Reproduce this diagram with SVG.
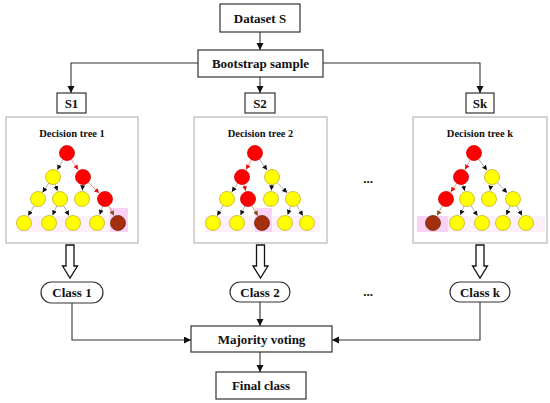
<svg xmlns="http://www.w3.org/2000/svg" width="550" height="403" viewBox="0 0 550 403">
<defs>
<marker id="ah" markerUnits="userSpaceOnUse" markerWidth="8" markerHeight="8" refX="7" refY="3.5" orient="auto"><path d="M0,0 L7,3.5 L0,7 z" fill="#111"/></marker>
<marker id="tb" markerUnits="userSpaceOnUse" markerWidth="6" markerHeight="6" refX="5" refY="2.5" orient="auto"><path d="M0,0 L5,2.5 L0,5 z" fill="#111"/></marker>
<marker id="tr" markerUnits="userSpaceOnUse" markerWidth="6" markerHeight="6" refX="5" refY="2.5" orient="auto"><path d="M0,0 L5,2.5 L0,5 z" fill="#ee1111"/></marker>
<marker id="tbr" markerUnits="userSpaceOnUse" markerWidth="6" markerHeight="6" refX="5" refY="2.5" orient="auto"><path d="M0,0 L5,2.5 L0,5 z" fill="#8a4a10"/></marker>
</defs>
<style>
text{font-family:"Liberation Serif","Times New Roman",serif;font-weight:bold;fill:#111;text-anchor:middle}
.box{fill:#fff;stroke:#333;stroke-width:1.2}
.tbox{fill:#fff;stroke:#aaa;stroke-width:1}
.t{font-size:13px}
.tt{font-size:10.5px}
.con{fill:none;stroke:#333;stroke-width:1.1}
.e{stroke:#999;stroke-width:0.8;marker-end:url(#tb)}
.er{stroke:#f77;stroke-width:0.8;marker-end:url(#tr)}
.eb{stroke:#b08060;stroke-width:0.8;marker-end:url(#tbr)}
.y{fill:#ffff00;stroke:#c8b020;stroke-width:0.8}
.r{fill:#ff0000;stroke:#d80000;stroke-width:0.8}
.b{fill:#a3300c;stroke:#7a2a08;stroke-width:0.8}
.hl{fill:#fdf0fd}
.hd{fill:#fad2f5}
.hol{fill:#fff;stroke:#111;stroke-width:1.3}
</style>
<g id="connectors">
<line class="con" x1="260" y1="32" x2="260" y2="50" marker-end="url(#ah)"/>
<polyline class="con" points="198,63 71,63 71,93" marker-end="url(#ah)"/>
<polyline class="con" points="323,63 480,63 480,93" marker-end="url(#ah)"/>
<line class="con" x1="260" y1="77" x2="260" y2="93" marker-end="url(#ah)"/>
<polyline class="con" points="72,303 72,340 191,340" marker-end="url(#ah)"/>
<line class="con" x1="260" y1="302" x2="260" y2="326" marker-end="url(#ah)"/>
<polyline class="con" points="480,302 480,340 332,340" marker-end="url(#ah)"/>
<line class="con" x1="260" y1="352" x2="260" y2="372" marker-end="url(#ah)"/>
<polygon class="hol" points="66,245 74,245 74,266 77.5,266 70,278 62.5,266 66,266"/>
<polygon class="hol" points="256.5,245 264.5,245 264.5,266 268,266 260.5,278 253,266 256.5,266"/>
<polygon class="hol" points="476,245 484,245 484,266 487.5,266 480,278 472.5,266 476,266"/>
</g>
<g id="dataset"><rect class="box" x="220" y="4" width="80" height="28"/><text class="t" x="260" y="22.5">Dataset S</text></g>
<g id="bootstrap"><rect class="box" x="198" y="50" width="125" height="27"/><text class="t" x="260.5" y="68">Bootstrap sample</text></g>
<g id="s1"><rect class="box" x="57" y="93" width="29" height="20"/><text class="t" x="71.5" y="107.5">S1</text></g>
<g id="s2"><rect class="box" x="245" y="93" width="30" height="20"/><text class="t" x="260" y="107.5">S2</text></g>
<g id="sk"><rect class="box" x="466" y="93" width="28" height="20"/><text class="t" x="480" y="107.5">Sk</text></g>

<g id="tree1">
<rect class="tbox" x="6" y="117" width="132" height="126"/>
<text class="tt" x="72" y="136.5">Decision tree 1</text>
<rect class="hl" x="17" y="216" width="111" height="16"/>
<rect class="hd" x="110" y="208" width="18" height="24"/>
<line class="e" x1="63.2" y1="159.5" x2="57.2" y2="169.8"/>
<line class="er" x1="71.3" y1="159.5" x2="78.2" y2="169.8"/>
<line class="e" x1="49" y1="182.9" x2="42.5" y2="192.4"/>
<line class="e" x1="55.2" y1="184" x2="57.4" y2="190.9"/>
<line class="e" x1="82.7" y1="184.5" x2="82.4" y2="190.4"/>
<line class="er" x1="88.3" y1="182.3" x2="99.1" y2="193.1"/>
<line class="e" x1="34.2" y1="205.5" x2="28.2" y2="215.8"/>
<line class="e" x1="56.9" y1="205.7" x2="52.5" y2="215.3"/>
<line class="e" x1="63.5" y1="205.5" x2="69" y2="215.6"/>
<line class="e" x1="102.6" y1="206.2" x2="99.7" y2="214.8"/>
<line class="eb" x1="108.5" y1="205.5" x2="114" y2="215.6"/>
<circle class="r" cx="67" cy="153" r="7.5"/>
<circle class="y" cx="53" cy="177" r="7.5"/>
<circle class="r" cx="83" cy="177" r="7.5"/>
<circle class="y" cx="38" cy="199" r="7.5"/>
<circle class="y" cx="60" cy="199" r="7.5"/>
<circle class="y" cx="82" cy="199" r="7.5"/>
<circle class="r" cx="105" cy="199" r="7.5"/>
<circle class="y" cx="24" cy="223" r="7.5"/>
<circle class="y" cx="49" cy="223" r="7.5"/>
<circle class="y" cx="73" cy="223" r="7.5"/>
<circle class="y" cx="97" cy="223" r="7.5"/>
<circle class="b" cx="118" cy="223" r="7.5"/>
</g>

<g id="tree2">
<rect class="tbox" x="194" y="117" width="133" height="126"/>
<text class="tt" x="260.5" y="136.5">Decision tree 2</text>
<rect class="hl" x="205" y="216" width="115" height="16"/>
<rect class="hd" x="255" y="208" width="17" height="24"/>
<line class="er" x1="251.4" y1="159.7" x2="246" y2="169.6"/>
<line class="e" x1="259.4" y1="159.2" x2="267.1" y2="170"/>
<line class="e" x1="237.8" y1="183.2" x2="231.8" y2="192"/>
<line class="er" x1="244" y1="184.3" x2="245.8" y2="190.9"/>
<line class="e" x1="271.7" y1="184.5" x2="271.4" y2="190.4"/>
<line class="e" x1="277.2" y1="182.5" x2="287.1" y2="192.8"/>
<line class="e" x1="223.2" y1="205.5" x2="217.2" y2="215.8"/>
<line class="e" x1="244.9" y1="205.7" x2="240.5" y2="215.3"/>
<line class="eb" x1="251.8" y1="205.5" x2="257.8" y2="215.8"/>
<line class="e" x1="290.6" y1="206.2" x2="287.7" y2="214.8"/>
<line class="e" x1="296.8" y1="205.5" x2="302.8" y2="215.8"/>
<circle class="r" cx="255" cy="153" r="7.5"/>
<circle class="r" cx="242" cy="177" r="7.5"/>
<circle class="y" cx="272" cy="177" r="7.5"/>
<circle class="y" cx="227" cy="199" r="7.5"/>
<circle class="r" cx="248" cy="199" r="7.5"/>
<circle class="y" cx="271" cy="199" r="7.5"/>
<circle class="y" cx="293" cy="199" r="7.5"/>
<circle class="y" cx="213" cy="223" r="7.5"/>
<circle class="y" cx="237" cy="223" r="7.5"/>
<circle class="b" cx="262" cy="223" r="7.5"/>
<circle class="y" cx="285" cy="223" r="7.5"/>
<circle class="y" cx="307" cy="223" r="7.5"/>
</g>

<g id="treek">
<rect class="tbox" x="413" y="117" width="134" height="126"/>
<text class="tt" x="480" y="136.5">Decision tree k</text>
<rect class="hl" x="447" y="216" width="98" height="16"/>
<rect class="hd" x="417" y="216" width="31" height="16"/>
<line class="er" x1="470.4" y1="159.7" x2="465" y2="169.6"/>
<line class="e" x1="478.5" y1="159" x2="487" y2="170.3"/>
<line class="er" x1="456.8" y1="183.2" x2="450.8" y2="192"/>
<line class="e" x1="463" y1="184.3" x2="464.8" y2="190.9"/>
<line class="e" x1="491" y1="184.5" x2="490.1" y2="190.6"/>
<line class="e" x1="497.2" y1="182.5" x2="507.1" y2="192.8"/>
<line class="eb" x1="442.4" y1="205.7" x2="437" y2="215.6"/>
<line class="e" x1="464.1" y1="206" x2="460.3" y2="215.1"/>
<line class="e" x1="471" y1="205.5" x2="477.5" y2="215.8"/>
<line class="e" x1="510.1" y1="206" x2="506.3" y2="215.1"/>
<line class="e" x1="516.5" y1="205.5" x2="522" y2="215.6"/>
<circle class="r" cx="474" cy="153" r="7.5"/>
<circle class="r" cx="461" cy="177" r="7.5"/>
<circle class="y" cx="492" cy="177" r="7.5"/>
<circle class="r" cx="446" cy="199" r="7.5"/>
<circle class="y" cx="467" cy="199" r="7.5"/>
<circle class="y" cx="489" cy="199" r="7.5"/>
<circle class="y" cx="513" cy="199" r="7.5"/>
<circle class="b" cx="433" cy="223" r="7.5"/>
<circle class="y" cx="457" cy="223" r="7.5"/>
<circle class="y" cx="482" cy="223" r="7.5"/>
<circle class="y" cx="503" cy="223" r="7.5"/>
<circle class="y" cx="526" cy="223" r="7.5"/>
</g>

<text class="t" x="368" y="183">...</text>
<text class="t" x="368" y="296">...</text>

<g id="class1"><rect class="box" x="41" y="282" width="62" height="21" rx="10.5"/><text class="t" x="72" y="297">Class 1</text></g>
<g id="class2"><rect class="box" x="230" y="282" width="60" height="20" rx="10"/><text class="t" x="260" y="297">Class 2</text></g>
<g id="classk"><rect class="box" x="450" y="282" width="60" height="20" rx="10"/><text class="t" x="480" y="297">Class k</text></g>
<g id="majority"><rect class="box" x="191" y="326" width="141" height="26"/><text class="t" x="261.5" y="343.5">Majority voting</text></g>
<g id="final"><rect class="box" x="216" y="372" width="90" height="27"/><text class="t" x="261" y="390">Final class</text></g>
</svg>
